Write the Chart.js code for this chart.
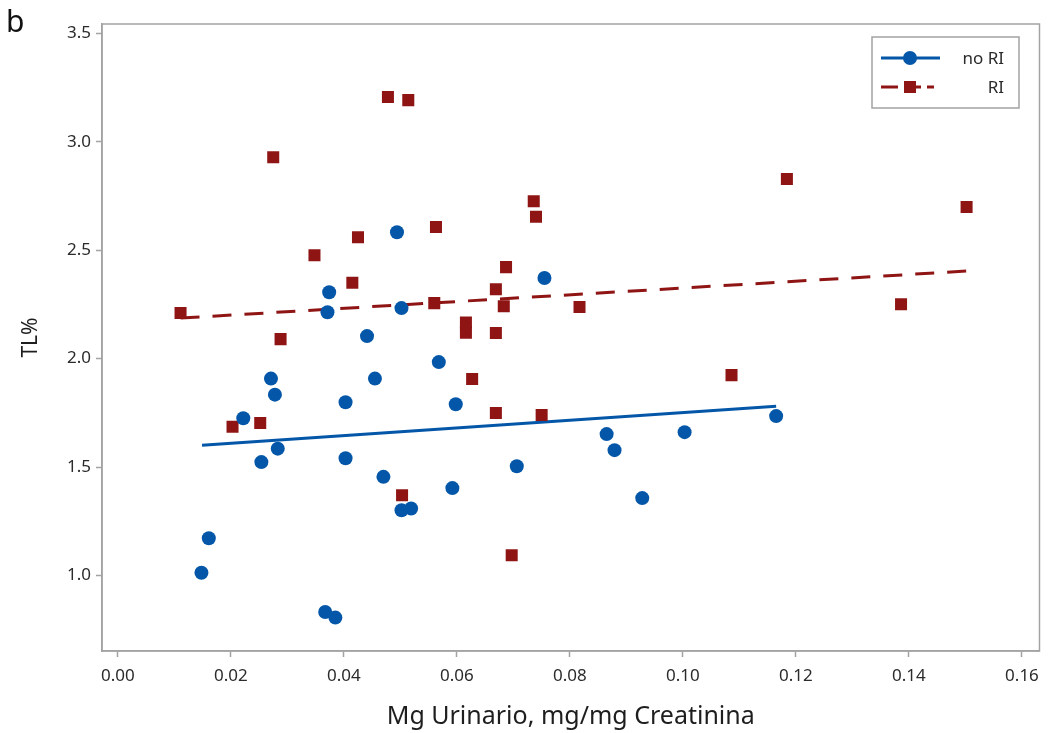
<!DOCTYPE html>
<html>
<head>
<meta charset="utf-8">
<script src="https://cdn.jsdelivr.net/npm/chart.js@4/dist/chart.umd.min.js"></script>
<style>
  html, body { margin: 0; padding: 0; background: #fff; }
  #wrap { width: 1048px; height: 733px; position: relative; }
</style>
</head>
<body>
<div id="wrap"><canvas id="chart"></canvas></div>
<script>
// no RI group: Mg urinario vs TL%
const noRiX = [0.0148, 0.0161, 0.0222, 0.0254, 0.0271, 0.0278, 0.0283, 0.0367, 0.0385, 0.0371, 0.0374,
               0.0403, 0.0403, 0.0441, 0.0455, 0.0470, 0.0494, 0.0502, 0.0502, 0.0519, 0.0568, 0.0592,
               0.0598, 0.0706, 0.0755, 0.0865, 0.0879, 0.0928, 0.1003, 0.1165];
const noRiY = [1.013, 1.172, 1.725, 1.523, 1.908, 1.834, 1.585, 0.832, 0.806, 2.214, 2.306,
               1.799, 1.541, 2.104, 1.908, 1.455, 2.583, 2.233, 1.301, 1.309, 1.984, 1.403,
               1.790, 1.504, 2.372, 1.652, 1.578, 1.357, 1.661, 1.735];

// RI group
const riX = [0.0111, 0.0203, 0.0252, 0.0275, 0.0288, 0.0348, 0.0415, 0.0425, 0.0478, 0.0503,
             0.0514, 0.0560, 0.0563, 0.0616, 0.0616, 0.0627, 0.0669, 0.0669, 0.0669, 0.0687,
             0.0683, 0.0697, 0.0736, 0.0740, 0.0750, 0.0817, 0.1086, 0.1184, 0.1386, 0.1502];
const riY = [2.210, 1.686, 1.703, 2.929, 2.090, 2.477, 2.350, 2.560, 3.206, 1.370,
             3.192, 2.256, 2.607, 2.167, 2.120, 1.906, 2.320, 2.118, 1.749, 2.422,
             2.242, 1.094, 2.726, 2.654, 1.740, 2.238, 1.924, 2.828, 2.251, 2.699];

// fitted lines (end points)
const fitNoRiX = [0.0149, 0.1165];
const fitNoRiY = [1.601, 1.781];
const fitRiX = [0.0111, 0.1502];
const fitRiY = [2.187, 2.404];

const xTicks = [0, 0.02, 0.04, 0.06, 0.08, 0.10, 0.12, 0.14, 0.16];
const yTicks = [1.0, 1.5, 2.0, 2.5, 3.0, 3.5];

const blue = '#0457a8';
const red = '#8f1515';
const frameGray = '#a3a3a3';
const textGray = '#2b2b2b';
const FONT = '"Noto Sans", "Open Sans", sans-serif';

const pts = (xs, ys) => xs.map((x, i) => ({ x: x, y: ys[i] }));

// outer frame, panel letter and legend box
const decorations = {
  id: 'decorations',
  afterDatasetsDraw(chart) {
    const { ctx, chartArea: a } = chart;
    ctx.save();
    ctx.strokeStyle = frameGray;
    ctx.lineWidth = 1.5;
    ctx.strokeRect(a.left, a.top, a.right - a.left, a.bottom - a.top);

    ctx.fillStyle = '#111';
    ctx.font = '30px ' + FONT;
    ctx.textBaseline = 'alphabetic';
    ctx.fillText('b', 6, 32);

    // legend
    const bx = 872, by = 37, bw = 147, bh = 71;
    ctx.lineWidth = 1.5;
    ctx.strokeStyle = frameGray;
    ctx.strokeRect(bx, by, bw, bh);

    ctx.lineWidth = 3;
    ctx.strokeStyle = blue;
    ctx.beginPath();
    ctx.moveTo(881, 58); ctx.lineTo(940, 58);
    ctx.stroke();
    ctx.fillStyle = blue;
    ctx.beginPath();
    ctx.arc(910, 58, 7, 0, Math.PI * 2);
    ctx.fill();

    ctx.strokeStyle = red;
    ctx.setLineDash([17, 6]);
    ctx.beginPath();
    ctx.moveTo(881, 87); ctx.lineTo(934, 87);
    ctx.stroke();
    ctx.setLineDash([]);
    ctx.fillStyle = red;
    ctx.fillRect(904, 81, 12, 12);

    ctx.fillStyle = textGray;
    ctx.font = '17px ' + FONT;
    ctx.textAlign = 'right';
    ctx.textBaseline = 'middle';
    ctx.fillText('no RI', 1004, 59);
    ctx.fillText('RI', 1004, 88);
    ctx.restore();
  }
};

new Chart(document.getElementById('chart'), {
  type: 'scatter',
  data: {
    datasets: [
      {
        label: 'no RI',
        data: pts(noRiX, noRiY),
        pointStyle: 'circle',
        pointRadius: 7,
        borderWidth: 0,
        backgroundColor: blue,
        borderColor: blue
      },
      {
        label: 'RI',
        data: pts(riX, riY),
        pointStyle: 'rect',
        pointRadius: 8.5,
        borderWidth: 0,
        backgroundColor: red,
        borderColor: red
      },
      {
        label: 'fit no RI',
        data: pts(fitNoRiX, fitNoRiY),
        showLine: true,
        pointRadius: 0,
        borderColor: blue,
        borderWidth: 3,
        fill: false
      },
      {
        label: 'fit RI',
        data: pts(fitRiX, fitRiY),
        showLine: true,
        pointRadius: 0,
        borderColor: red,
        borderWidth: 3,
        borderDash: [19, 13],
        fill: false
      }
    ]
  },
  options: {
    responsive: true,
    maintainAspectRatio: false,
    animation: false,
    layout: { padding: { top: 24, right: 6, left: 0, bottom: 0 } },
    plugins: {
      legend: { display: false },
      tooltip: { enabled: false }
    },
    scales: {
      x: {
        type: 'linear',
        min: -0.0028,
        max: 0.1631,
        afterFit: s => { s.height = 82; },
        afterBuildTicks: s => { s.ticks = xTicks.map(v => ({ value: v })); },
        ticks: {
          color: textGray,
          font: { family: FONT, size: 17 },
          padding: 9,
          maxRotation: 0,
          includeBounds: false,
          callback: v => v.toFixed(2)
        },
        grid: {
          drawOnChartArea: false,
          drawTicks: true,
          tickLength: 6,
          tickColor: frameGray,
          tickWidth: 1.5
        },
        border: { display: true, color: frameGray, width: 1.5 },
        title: {
          display: true,
          text: 'Mg Urinario, mg/mg Creatinina',
          color: '#1e1e1e',
          font: { family: FONT, size: 25 },
          padding: { top: 0, bottom: 1 }
        }
      },
      y: {
        type: 'linear',
        min: 0.652,
        max: 3.543,
        afterFit: s => { s.width = 102; },
        afterBuildTicks: s => { s.ticks = yTicks.map(v => ({ value: v })); },
        ticks: {
          color: textGray,
          font: { family: FONT, size: 17 },
          padding: 5,
          includeBounds: false,
          callback: v => v.toFixed(1)
        },
        grid: {
          drawOnChartArea: false,
          drawTicks: true,
          tickLength: 6,
          tickColor: frameGray,
          tickWidth: 1.5
        },
        border: { display: true, color: frameGray, width: 1.5 },
        title: {
          display: true,
          text: 'TL%',
          color: '#1e1e1e',
          font: { family: FONT, size: 21 },
          padding: { top: 18, bottom: 0 }
        }
      }
    }
  },
  plugins: [decorations]
});
</script>
</body>
</html>
